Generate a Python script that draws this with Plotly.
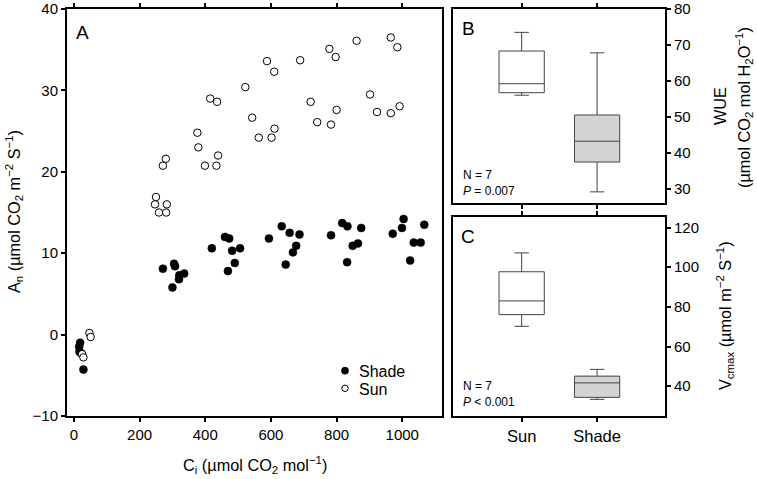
import plotly.graph_objects as go

W, H = 757, 479
FONT = "Liberation Sans, Arial, Helvetica, sans-serif"

# ---------------- data ----------------
shade_ci = [19, 16, 17, 22, 29, 271, 305, 308, 300, 321, 320, 336, 420, 460, 473, 482, 506, 490, 469,
            594, 633, 657, 687, 677, 667, 645, 783, 817, 833, 875, 849, 865, 832,
            971, 999, 1004, 1067, 1035, 1056, 1024]
shade_an = [-1.0, -1.5, -2.1, -2.3, -4.3, 8.1, 8.7, 8.4, 5.8, 7.3, 6.8, 7.5, 10.6, 12.0, 11.8, 10.3, 10.6, 8.8, 7.8,
            11.8, 13.3, 12.5, 12.3, 10.9, 10.1, 8.6, 12.2, 13.7, 13.3, 13.1, 10.9, 11.2, 8.9,
            12.4, 13.1, 14.2, 13.5, 11.3, 11.3, 9.1]

sun_ci = [47, 51, 25, 29, 250, 247, 283, 259, 281, 271, 280, 376, 379, 399, 434, 439, 415, 436,
          522, 543, 563, 602, 611, 588, 610, 689, 721, 741, 783, 800, 778, 797, 861,
          902, 923, 965, 992, 965, 985]
sun_an = [0.2, -0.3, -2.4, -2.8, 16.9, 16.0, 16.0, 15.0, 15.0, 20.75, 21.6, 24.8, 23.0, 20.75, 20.75, 22.0, 29.0, 28.6,
          30.4, 26.65, 24.2, 24.2, 25.3, 33.6, 32.3, 33.7, 28.6, 26.1, 25.8, 27.6, 35.1, 34.1, 36.1,
          29.5, 27.35, 27.2, 28.05, 36.5, 35.3]

groups = ["Sun", "Shade"]
# box statistics: lower whisker, Q1, median, Q3, upper whisker
wue_low = [56.0, 29.1]
wue_q1 = [56.7, 37.4]
wue_med = [59.2, 43.2]
wue_q3 = [68.3, 50.5]
wue_high = [73.5, 67.8]

vc_low = [70.2, 33.4]
vc_q1 = [76.1, 34.4]
vc_med = [83.0, 41.7]
vc_q3 = [97.7, 45.1]
vc_high = [107.2, 48.5]

box_fill = ["white", "#d4d4d4"]

# ---------------- figure ----------------
fig = go.Figure()

fig.add_trace(go.Scatter(x=shade_ci, y=shade_an, mode="markers", name="Shade",
                         marker=dict(color="black", size=8, line=dict(color="black", width=0.5)),
                         xaxis="x", yaxis="y", showlegend=False))
fig.add_trace(go.Scatter(x=sun_ci, y=sun_an, mode="markers", name="Sun",
                         marker=dict(color="white", size=7.5, line=dict(color="black", width=1)),
                         xaxis="x", yaxis="y", showlegend=False))

for i, g in enumerate(groups):
    fig.add_trace(go.Box(x=[g], q1=[wue_q1[i]], median=[wue_med[i]], q3=[wue_q3[i]],
                         lowerfence=[wue_low[i]], upperfence=[wue_high[i]],
                         fillcolor=box_fill[i], line=dict(color="#444444", width=1),
                         width=0.6, whiskerwidth=0.32, boxpoints=False,
                         xaxis="x2", yaxis="y2", showlegend=False))
    fig.add_trace(go.Box(x=[g], q1=[vc_q1[i]], median=[vc_med[i]], q3=[vc_q3[i]],
                         lowerfence=[vc_low[i]], upperfence=[vc_high[i]],
                         fillcolor=box_fill[i], line=dict(color="#444444", width=1),
                         width=0.6, whiskerwidth=0.32, boxpoints=False,
                         xaxis="x3", yaxis="y3", showlegend=False))


def px(x):
    return x / W


def py(y):
    return 1 - y / H


axis_common = dict(showgrid=False, zeroline=False, showline=True, linecolor="black", linewidth=2,
                   ticks="outside", ticklen=4, tickwidth=1.5, tickcolor="black",
                   tickfont=dict(family=FONT, size=15, color="black"))

fig.update_layout(
    width=W, height=H,
    margin=dict(l=0, r=0, t=0, b=0, autoexpand=False),
    paper_bgcolor="white", plot_bgcolor="white",
    font=dict(family=FONT, color="black"),
    showlegend=False,
    xaxis=dict(domain=[px(67), px(442)], range=[-21, 1121], tickvals=[0, 200, 400, 600, 800, 1000],
               mirror="ticks", anchor="y", **axis_common),
    yaxis=dict(domain=[py(416), py(9)], range=[-10, 40], tickvals=[-10, 0, 10, 20, 30, 40],
               ticktext=["\u221210", "0", "10", "20", "30", "40"],
               mirror=True, anchor="x", **axis_common),
    xaxis2=dict(domain=[px(453), px(665)], type="category", categoryorder="array", categoryarray=groups,
                range=[-0.91, 1.9], showticklabels=False, mirror="ticks", anchor="y2", **axis_common),
    yaxis2=dict(domain=[py(203), py(9)], range=[26, 80], tickvals=[30, 40, 50, 60, 70, 80],
                side="right", mirror=True, anchor="x2", **axis_common),
    xaxis3=dict(domain=[px(453), px(665)], type="category", categoryorder="array", categoryarray=groups,
                range=[-0.91, 1.9], mirror="ticks", anchor="y3", **axis_common),
    yaxis3=dict(domain=[py(416), py(217)], range=[25, 125.3], tickvals=[40, 60, 80, 100, 120],
                side="right", mirror=True, anchor="x3", **axis_common),
)
fig.layout.xaxis3.tickfont = dict(family=FONT, size=16.5, color="black")

ann = []


def add_text(text, x, y, size=15, angle=0, xanchor="center", yanchor="middle", align="center"):
    ann.append(dict(text=text, x=px(x), y=py(y), xref="paper", yref="paper", showarrow=False,
                    textangle=angle, xanchor=xanchor, yanchor=yanchor, align=align,
                    font=dict(family=FONT, size=size, color="black")))


TS = 16.3
add_text("A<sub>n</sub> (\u00b5mol CO<sub>2</sub> m<sup>\u22122</sup> S<sup>\u22121</sup>)", 14, 212, size=TS, angle=-90)
add_text("C<sub>i</sub> (\u00b5mol CO<sub>2</sub> mol<sup>\u22121</sup>)", 255, 465, size=TS)
add_text("WUE", 720, 106, size=TS, angle=-90)
add_text("(\u00b5mol CO<sub>2</sub> mol H<sub>2</sub>O<sup>\u22121</sup>)", 744, 108, size=TS, angle=-90)
add_text("V<sub>cmax</sub> (\u00b5mol m<sup>\u22122</sup> S<sup>\u22121</sup>)", 725, 316, size=TS, angle=-90)

add_text("A", 82, 32, size=19)
add_text("B", 468, 29, size=19)
add_text("C", 468, 236, size=19)

add_text("N = 7<br><i>P</i> = 0.007", 461, 183, size=12, xanchor="left", align="left")
add_text("N = 7<br><i>P</i> &lt; 0.001", 461, 394, size=12, xanchor="left", align="left")

# manual legend
add_text("Shade", 357, 371, size=16, xanchor="left")
add_text("Sun", 357, 389, size=16, xanchor="left")

fig.update_layout(annotations=ann)

shapes = [
    dict(type="circle", xref="paper", yref="paper", x0=px(341.4), x1=px(348.6), y0=py(374.3), y1=py(367.1),
         fillcolor="black", line=dict(color="black", width=0.5)),
    dict(type="circle", xref="paper", yref="paper", x0=px(341.8), x1=px(348.2), y0=py(391.5), y1=py(385.1),
         fillcolor="white", line=dict(color="black", width=1)),
]
fig.update_layout(shapes=shapes)

fig.write_html("out.html", config={"displayModeBar": False},
               post_script="document.body.style.margin='0px';document.body.style.overflow='hidden';")
